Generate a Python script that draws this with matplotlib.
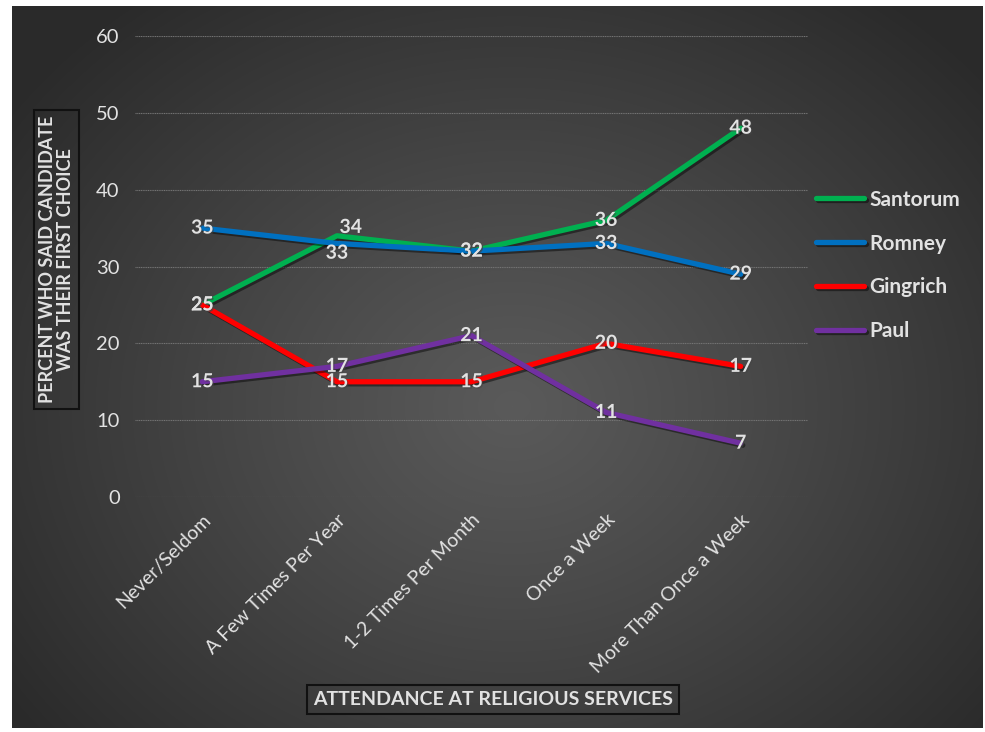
import numpy as np
import matplotlib
matplotlib.use("Agg")
import matplotlib.pyplot as plt
import matplotlib.patheffects as pe

plt.rcParams['font.family'] = ['Lato', 'DejaVu Sans']

categories = ['Never/Seldom', 'A Few Times Per Year', '1-2 Times Per Month',
              'Once a Week', 'More Than Once a Week']
santorum = [25, 34, 32, 36, 48]
romney = [35, 33, 32, 33, 29]
gingrich = [25, 15, 15, 20, 17]
paul = [15, 17, 21, 11, 7]

series = [('Santorum', santorum, '#00B050'),
          ('Romney', romney, '#0070C0'),
          ('Gingrich', gingrich, '#FF0000'),
          ('Paul', paul, '#7030A0')]

# label nudges in points, for the few labels that would collide
nudge = {('Santorum', 1): (10, 6), ('Romney', 1): (0, -7)}

txt = '#E2E2E2'
W, H = 985, 732
fig = plt.figure(figsize=(W / 100, H / 100), dpi=100)
fig.patch.set_facecolor('white')

# dark radial backdrop
bg = fig.add_axes([12 / W, 1 - 728 / H, 971 / W, 722 / H], zorder=-5)
yy, xx = np.mgrid[0:722, 0:971]
r = np.sqrt(((xx - 500) / 620) ** 2 + ((yy - 400) / 520) ** 2)
v = 0x5A - (0x5A - 0x2A) * np.clip(r, 0, 1) ** 1.1
img = np.dstack([v, v, v]) / 255.0
bg.imshow(img, aspect='auto', interpolation='bilinear')
bg.axis('off')

ax = fig.add_axes([135 / W, 1 - 497 / H, 673 / W, 461 / H])
ax.patch.set_alpha(0)
x = np.arange(len(categories))

shadow = [pe.SimpleLineShadow(offset=(1.5, -1.5), shadow_color='black', alpha=0.45), pe.Normal()]
for name, vals, col in series:
    ax.plot(x, vals, color=col, lw=3.8, label=name, solid_capstyle='round',
            path_effects=shadow, zorder=3)

for name, vals, col in series:
    for i, v_ in enumerate(vals):
        dx, dy = nudge.get((name, i), (0, 0))
        ax.annotate(str(v_), (i, v_), xytext=(dx, dy), textcoords='offset points',
                    ha='center', va='center', color=txt, fontsize=14,
                    fontweight='bold', zorder=5,
                    path_effects=[pe.withSimplePatchShadow(offset=(1, -1), alpha=0.5)])

ax.set_xlim(-0.5, 4.5)
ax.set_ylim(0, 60)
ax.set_yticks(range(0, 61, 10))
ax.yaxis.grid(True, color='#747474', lw=0.8, ls=(0, (1, 0.6)))
ax.set_axisbelow(True)
for s in ax.spines.values():
    s.set_visible(False)
ax.tick_params(length=0)
ax.tick_params(axis='y', colors=txt, labelsize=14.5, pad=11)
ax.set_xticks(x)
ax.set_xticklabels(categories, rotation=45, ha='right', rotation_mode='anchor',
                   color=txt, fontsize=14)
ax.tick_params(axis='x', pad=10)

ax.set_ylabel('PERCENT WHO SAID CANDIDATE\nWAS THEIR FIRST CHOICE', color=txt,
              fontsize=13, fontweight='bold', linespacing=1.05,
              bbox=dict(boxstyle='square,pad=0.3', fc='none', ec='#111111', lw=1.5))
ax.yaxis.set_label_coords(-0.091, 0.515)
ax.set_xlabel('ATTENDANCE AT RELIGIOUS SERVICES', color=txt, fontsize=14,
              fontweight='bold',
              bbox=dict(boxstyle='square,pad=0.3', fc='none', ec='#111111', lw=1.5))
ax.xaxis.set_label_coords(0.532, -0.421)

leg = ax.legend(loc='upper left', bbox_to_anchor=(1.0, 0.685), frameon=False,
                fontsize=15, handlelength=2.3, handletextpad=0.25,
                labelspacing=1.15, borderaxespad=0)
for t in leg.get_texts():
    t.set_color(txt)
    t.set_fontweight('bold')

fig.savefig('out.png', dpi=100, facecolor=fig.get_facecolor())
